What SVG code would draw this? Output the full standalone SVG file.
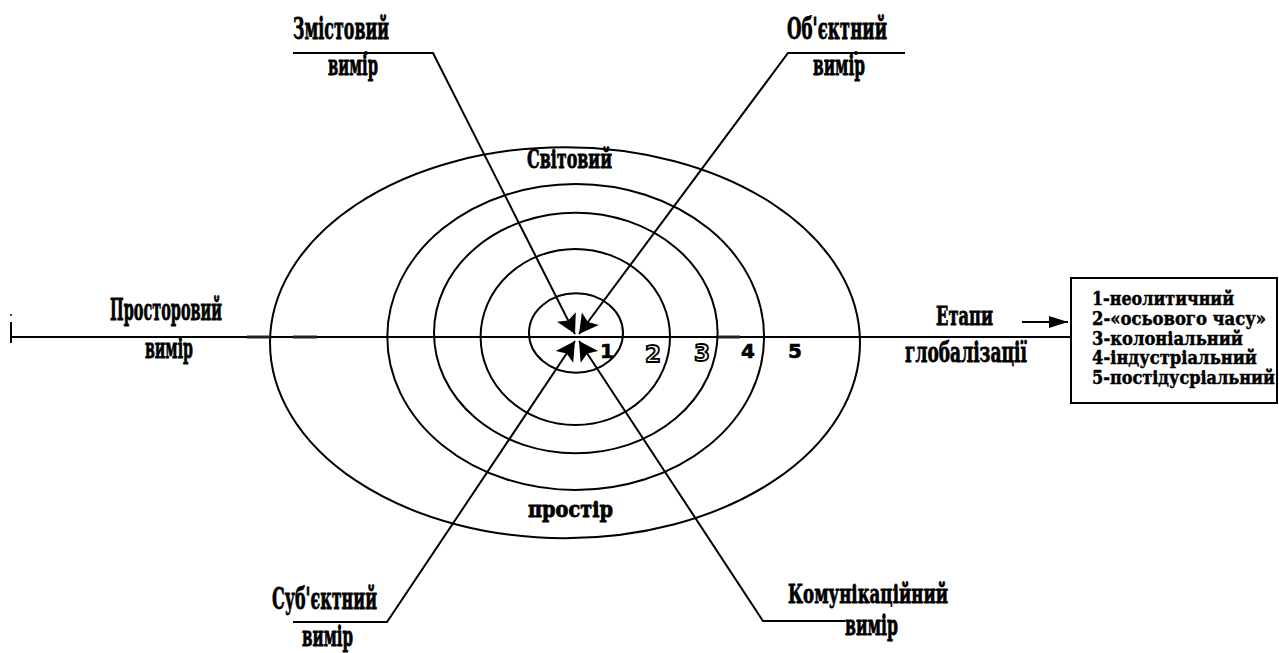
<svg xmlns="http://www.w3.org/2000/svg" width="1279" height="653" viewBox="0 0 1279 653">
<style>
.ln{stroke:#000;stroke-width:2;fill:none}
.el{stroke:#000;stroke-width:2;fill:none}
.lb{font-family:"DejaVu Serif","Liberation Serif",serif;font-weight:bold;fill:#000;stroke:#000;stroke-width:0.8}
.bx{font-family:"DejaVu Serif","Liberation Serif",serif;font-weight:bold;fill:#000;stroke:#000;stroke-width:0.5;font-size:19px}
.num{font-family:"DejaVu Sans","Liberation Sans",sans-serif;font-weight:bold;font-size:20px;fill:#000;stroke:#000;stroke-width:0.6}
.num.hol{font-size:23px;fill:#fff;stroke:#000;stroke-width:1.8}
</style>
<defs>
<marker id="ah" markerUnits="userSpaceOnUse" markerWidth="26" markerHeight="26" refX="0" refY="0" viewBox="-22 -13 26 26" orient="auto">
<path d="M0,0 L-19,-10.5 L-15,0 L-19,10.5 z" fill="#000"/>
</marker>
<marker id="ah2" markerUnits="userSpaceOnUse" markerWidth="22" markerHeight="16" refX="0" refY="0" viewBox="-20 -8 22 16" orient="auto">
<path d="M0,0 L-19,-6 L-19,6 z" fill="#000"/>
</marker>
</defs>
<rect width="1279" height="653" fill="#fff"/>

<g id="rings">
<ellipse class="el" cx="565" cy="342.7" rx="295" ry="195.5"/>
<ellipse class="el" cx="575.7" cy="337" rx="188.4" ry="153"/>
<ellipse class="el" cx="575.8" cy="333" rx="141.8" ry="120.3"/>
<ellipse class="el" cx="575.3" cy="337" rx="94.7" ry="88"/>
<ellipse class="el" cx="576" cy="333" rx="47" ry="39.7"/>
</g>

<g id="connectors">
<line class="ln" x1="11" y1="337" x2="1071" y2="337"/>
<line x1="11" y1="322" x2="11" y2="343" stroke="#000" stroke-width="2"/>
<circle cx="11" cy="315" r="1" fill="#000"/>
<line x1="247" y1="337" x2="270" y2="337" stroke="#222" stroke-width="3"/>
<line x1="293" y1="337" x2="317" y2="337" stroke="#222" stroke-width="3"/>
<line x1="718" y1="337" x2="740" y2="337" stroke="#222" stroke-width="3"/>
<polyline class="ln" points="293,53 433,53 575,334" marker-end="url(#ah)"/>
<circle cx="366" cy="53" r="2" fill="#000"/>
<polyline class="ln" points="905,53 788,53 579,334" marker-end="url(#ah)"/>
<circle cx="856" cy="53" r="2" fill="#000"/>
<polyline class="ln" points="293,622 387,622 575,341" marker-end="url(#ah)"/>
<polyline class="ln" points="845,621 763,621 579,341" marker-end="url(#ah)"/>
<line class="ln" x1="1022" y1="322" x2="1068" y2="322" marker-end="url(#ah2)"/>
</g>

<g id="node-zmist">
<text class="lb" x="293" y="39" font-size="30" textLength="96" lengthAdjust="spacingAndGlyphs">Змістовий</text>
<text class="lb" x="328" y="75" font-size="28" textLength="50" lengthAdjust="spacingAndGlyphs">вимір</text>
</g>
<g id="node-obj">
<text class="lb" x="787" y="39" font-size="30" textLength="100" lengthAdjust="spacingAndGlyphs">Об'єктний</text>
<text class="lb" x="813" y="75" font-size="28" textLength="52" lengthAdjust="spacingAndGlyphs">вимір</text>
</g>
<g id="node-prostor">
<text class="lb" x="110" y="320" font-size="29" textLength="112" lengthAdjust="spacingAndGlyphs">Просторовий</text>
<text class="lb" x="145" y="358" font-size="28" textLength="48" lengthAdjust="spacingAndGlyphs">вимір</text>
</g>
<g id="node-etapy">
<text class="lb" x="936" y="325" font-size="26" textLength="57" lengthAdjust="spacingAndGlyphs">Етапи</text>
<text class="lb" x="905" y="362" font-size="28" textLength="122" lengthAdjust="spacingAndGlyphs">глобалізації</text>
</g>
<g id="node-sub">
<text class="lb" x="272" y="609" font-size="30" textLength="105" lengthAdjust="spacingAndGlyphs">Суб'єктний</text>
<text class="lb" x="302" y="646" font-size="28" textLength="51" lengthAdjust="spacingAndGlyphs">вимір</text>
</g>
<g id="node-komun">
<text class="lb" x="788" y="603" font-size="26" textLength="160" lengthAdjust="spacingAndGlyphs">Комунікаційний</text>
<text class="lb" x="845" y="635" font-size="27" textLength="53" lengthAdjust="spacingAndGlyphs">вимір</text>
</g>
<g id="node-world">
<text class="lb" x="527" y="168" font-size="26" textLength="85" lengthAdjust="spacingAndGlyphs">Світовий</text>
<text class="lb" x="528" y="517" font-size="23" textLength="85" lengthAdjust="spacingAndGlyphs">простір</text>
</g>
<g id="numbers">
<text class="num" x="600" y="358">1</text>
<text class="num hol" x="645" y="362">2</text>
<text class="num hol" x="694" y="361">3</text>
<text class="num" x="741" y="358">4</text>
<text class="num" x="788" y="358">5</text>
</g>
<g id="node-stages">
<rect x="1071" y="278" width="206" height="125" fill="#fff" stroke="#000" stroke-width="2"/>
<text class="bx" x="1092" y="305" textLength="142" lengthAdjust="spacingAndGlyphs">1-неолитичний</text>
<text class="bx" x="1092" y="325" textLength="174" lengthAdjust="spacingAndGlyphs">2-«осьового часу»</text>
<text class="bx" x="1092" y="345" textLength="151" lengthAdjust="spacingAndGlyphs">3-колоніальний</text>
<text class="bx" x="1092" y="364" textLength="165" lengthAdjust="spacingAndGlyphs">4-індустріальний</text>
<text class="bx" x="1092" y="384" textLength="183" lengthAdjust="spacingAndGlyphs">5-постідусріальний</text>
</g>
</svg>
